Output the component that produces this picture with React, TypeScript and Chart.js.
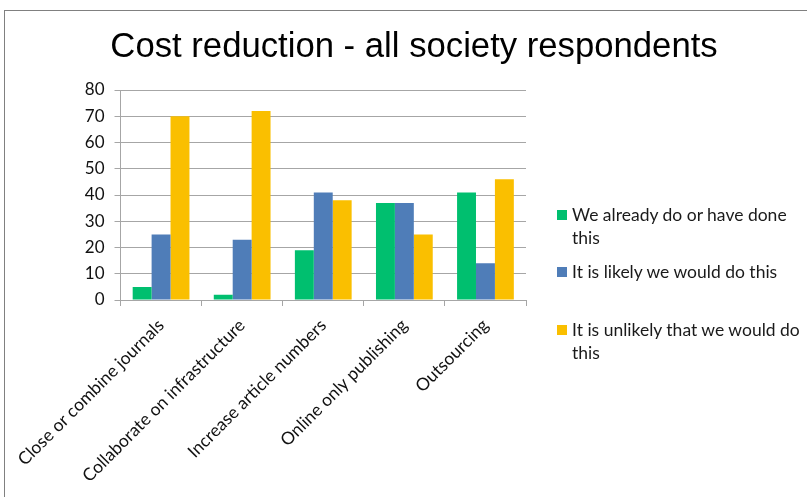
import React, { useEffect, useRef } from "react";
import { Chart, registerables } from "chart.js";

Chart.register(...registerables);

const title = "Cost reduction - all society respondents";
const categories = [
  "Close or combine journals",
  "Collaborate on infrastructure",
  "Increase article numbers",
  "Online only publishing",
  "Outsourcing",
];
const seriesNames = [
  "We already do or have done this",
  "It is likely we would do this",
  "It is unlikely that we would do this",
];
const alreadyDo = [5, 2, 19, 37, 41];
const likely = [25, 23, 41, 37, 14];
const unlikely = [70, 72, 38, 25, 46];
const colors = ["#00BF6F", "#4F7DB8", "#FABF00"];
const yTicks = [0, 10, 20, 30, 40, 50, 60, 70, 80];

const FONT = "Lato, 'Noto Sans', sans-serif";
const GRID = "#a6a6a6";

export default function App() {
  const ref = useRef<HTMLCanvasElement | null>(null);

  useEffect(() => {
    document.body.style.margin = "0";
    const canvas = ref.current;
    if (!canvas) return;
    const chart = new Chart(canvas, {
      type: "bar",
      data: {
        labels: categories,
        datasets: [alreadyDo, likely, unlikely].map((d, i) => ({
          label: seriesNames[i],
          data: d,
          backgroundColor: colors[i],
          borderWidth: 0,
          barPercentage: 1,
          categoryPercentage: 0.7,
        })),
      },
      options: {
        animation: false,
        responsive: false,
        devicePixelRatio: 1,
        layout: { padding: { left: 0, right: 281, top: 90, bottom: 0 } },
        plugins: {
          legend: { display: false },
          title: { display: false },
          tooltip: { enabled: false },
        },
        scales: {
          x: {
            grid: {
              display: true,
              drawOnChartArea: false,
              drawTicks: true,
              tickLength: 6,
              color: GRID,
              offset: true,
            },
            border: { display: true, color: GRID },
            ticks: {
              color: "#111",
              font: { family: FONT, size: 17.5 },
              minRotation: 45,
              maxRotation: 45,
              autoSkip: false,
              padding: 9,
            },
            afterFit: (s: any) => {
              s.height = 197;
            },
          },
          y: {
            min: 0,
            max: 80,
            afterBuildTicks: (s: any) => {
              s.ticks = yTicks.map((v) => ({ value: v }));
            },
            grid: { color: GRID, tickLength: 6, drawTicks: true },
            border: { display: true, color: GRID },
            ticks: {
              color: "#111",
              font: { family: FONT, size: 17 },
              padding: 10,
            },
            afterFit: (s: any) => {
              s.width = 119;
            },
          },
        },
      },
    });
    return () => chart.destroy();
  }, []);

  const legendItem = (i: number, top: number) => (
    <div
      key={i}
      style={{
        position: "absolute",
        left: 557,
        top,
        width: 250,
        display: "flex",
        alignItems: "flex-start",
      }}
    >
      <div
        style={{
          width: 10,
          height: 10,
          background: colors[i],
          marginTop: 7,
          marginRight: 5,
          flex: "0 0 auto",
        }}
      />
      <div style={{ fontFamily: FONT, fontSize: 17.5, lineHeight: "23px", color: "#1a1a1a", width: 234 }}>
        {seriesNames[i]}
      </div>
    </div>
  );

  return (
    <div style={{ position: "fixed", left: 0, top: 0, width: 807, height: 497, background: "#fff", overflow: "hidden" }}>
      <div
        style={{
          position: "absolute",
          left: 4,
          top: 10,
          width: 900,
          height: 600,
          borderLeft: "1.5px solid #808080",
          borderTop: "1.5px solid #808080",
        }}
      />
      <canvas ref={ref} width={807} height={497} style={{ position: "absolute", left: 0, top: 0, width: 807, height: 497 }} />
      <div
        style={{
          position: "absolute",
          left: 60,
          width: 708,
          top: 24,
          textAlign: "center",
          fontFamily: "'Liberation Sans', Arial, sans-serif",
          fontSize: 34.7,
          lineHeight: "42px",
          color: "#000",
        }}
      >
        {title}
      </div>
      {legendItem(0, 203)}
      {legendItem(1, 260)}
      {legendItem(2, 318)}
    </div>
  );
}
